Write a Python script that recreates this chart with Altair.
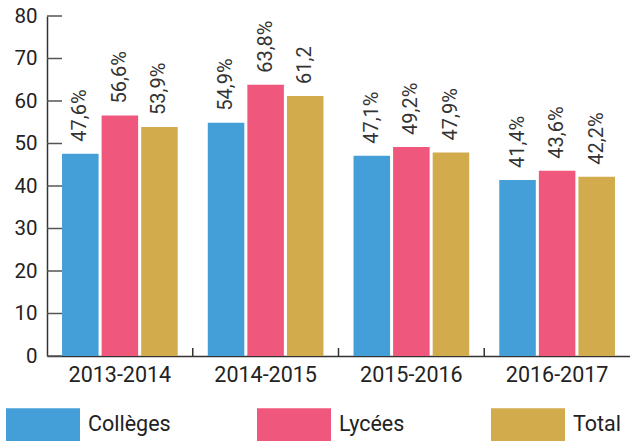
import altair as alt
import pandas as pd

years = ["2013-2014", "2014-2015", "2015-2016", "2016-2017"]
series = ["Collèges", "Lycées", "Total"]
colleges = [47.6, 54.9, 47.1, 41.4]
lycees = [56.6, 63.8, 49.2, 43.6]
total = [53.9, 61.2, 47.9, 42.2]
labels_colleges = ["47,6%", "54,9%", "47,1%", "41,4%"]
labels_lycees = ["56,6%", "63,8%", "49,2%", "43,6%"]
labels_total = ["53,9%", "61,2", "47,9%", "42,2%"]
colors = ["#449fd8", "#ef577c", "#d1ab4c"]
y_ticks = [0, 10, 20, 30, 40, 50, 60, 70, 80]

rows = []
for s, vals, labs in zip(series, [colleges, lycees, total],
                         [labels_colleges, labels_lycees, labels_total]):
    for yr, v, l in zip(years, vals, labs):
        rows.append({"year": yr, "series": s, "value": v, "label": l})
df = pd.DataFrame(rows)
ticks_df = pd.DataFrame({"t": y_ticks})
sep_df = pd.DataFrame({"year": years[1:]})

W, H = 583, 340
FONT = "Roboto"
TXT = "#222222"

xscale = alt.Scale(domain=years, paddingInner=0, paddingOuter=0)
xoff = alt.Scale(domain=series, paddingInner=0.077, paddingOuter=0.38)
yscale = alt.Scale(domain=[0, 80], nice=False)

x_enc = alt.X("year:N", scale=xscale, title=None,
              axis=alt.Axis(labelAngle=0, ticks=False, tickSize=0, domainColor="#333333",
                            domainWidth=1.5, labelFontSize=21.5, labelPadding=8,
                            labelColor=TXT, labelFont=FONT, grid=False))
xo_enc = alt.XOffset("series:N", scale=xoff)
y_enc = alt.Y("value:Q", scale=yscale, title=None,
              axis=alt.Axis(values=y_ticks, ticks=False, tickSize=0, grid=False,
                            domainColor="#333333", domainWidth=1.5, labelFontSize=20.5,
                            labelPadding=10, labelColor=TXT, labelFont=FONT))

bars = alt.Chart(df).mark_bar().encode(
    x=x_enc,
    xOffset=xo_enc,
    y=y_enc,
    color=alt.Color("series:N", scale=alt.Scale(domain=series, range=colors),
                    legend=alt.Legend(title=None, orient="none", legendX=-41, legendY=371.5,
                                      direction="horizontal",
                                      symbolType="M-1,-0.446L1,-0.446L1,0.446L-1,0.446Z",
                                      symbolSize=5476, symbolStrokeWidth=0,
                                      labelFontSize=21.5, labelFont=FONT, labelColor=TXT,
                                      labelOffset=8, columnPadding=86, padding=0)),
)

texts = alt.Chart(df).mark_text(angle=270, align="left", baseline="middle", dx=12,
                                fontSize=20, font=FONT, color="#333333").encode(
    x=alt.X("year:N", scale=xscale),
    xOffset=xo_enc,
    y=alt.Y("value:Q", scale=yscale),
    text="label:N",
)

yticks = alt.Chart(ticks_df).mark_rule(color="#555555", strokeWidth=1.5).encode(
    y=alt.Y("t:Q", scale=yscale),
    x=alt.value(0),
    x2=alt.value(15),
)

xticks = alt.Chart(sep_df).mark_rule(color="#333333", strokeWidth=1.5).encode(
    x=alt.X("year:N", scale=xscale, bandPosition=0),
    y=alt.value(H - 8),
    y2=alt.value(H),
)

chart = alt.layer(bars, texts, yticks, xticks).properties(
    width=W, height=H,
    padding={"left": 47, "top": 16, "right": 0, "bottom": 85},
    autosize=alt.AutoSizeParams(type="none"),
).configure_view(stroke=None)

chart.save("out.html", embed_options={"renderer": "svg", "actions": False})
